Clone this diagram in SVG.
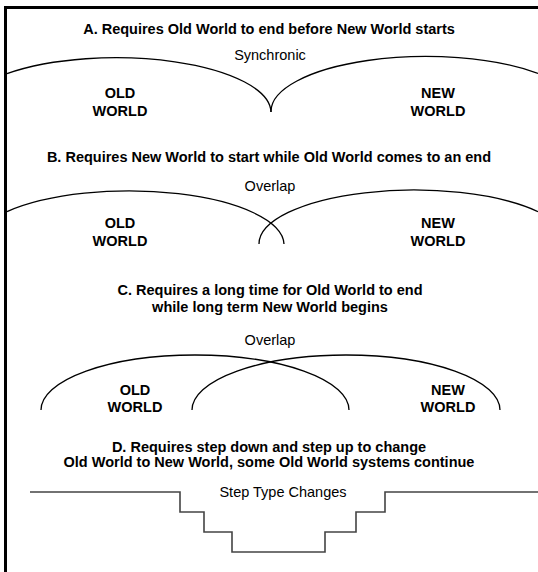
<svg xmlns="http://www.w3.org/2000/svg" width="538" height="572" viewBox="0 0 538 572">
<style>
text{font-family:"Liberation Sans",Arial,Helvetica,sans-serif;font-size:14.5px;fill:#000;text-anchor:middle}
.b{font-weight:bold}
.arc{fill:none;stroke:#000;stroke-width:1.3}
.step{fill:none;stroke:#444;stroke-width:1.6}
.frame{fill:none;stroke:#000;stroke-width:3}
</style>
<rect width="538" height="572" fill="#fff"/>
<path class="frame" d="M5.5 572 V7.5 H538"/>
<g id="sectionA">
<text class="b" x="269" y="34">A. Requires Old World to end before New World starts</text>
<text x="270" y="60">Synchronic</text>
<path class="arc" d="M7 73.6 A155 55 0 0 1 271 112"/>
<path class="arc" d="M271 112 A155 55 0 0 1 538 73.4"/>
<text class="b" x="120" y="98">OLD</text>
<text class="b" x="120" y="116">WORLD</text>
<text class="b" x="438" y="98">NEW</text>
<text class="b" x="438" y="116">WORLD</text>
</g>
<g id="sectionB">
<text class="b" x="269" y="162">B. Requires New World to start while Old World comes to an end</text>
<text x="270" y="191">Overlap</text>
<path class="arc" d="M7 211.6 A155 54 0 0 1 284 244"/>
<path class="arc" d="M259 244 A155 54 0 0 1 538 211.6"/>
<text class="b" x="120" y="228">OLD</text>
<text class="b" x="120" y="246">WORLD</text>
<text class="b" x="438" y="228">NEW</text>
<text class="b" x="438" y="246">WORLD</text>
</g>
<g id="sectionC">
<text class="b" x="270" y="295">C. Requires a long time for Old World to end</text>
<text class="b" x="270" y="312">while long term New World begins</text>
<text x="270" y="345">Overlap</text>
<path class="arc" d="M41 410 A154 55 0 0 1 349 410"/>
<path class="arc" d="M192 410 A154 55 0 0 1 500 410"/>
<text class="b" x="135" y="395">OLD</text>
<text class="b" x="135" y="412">WORLD</text>
<text class="b" x="448" y="395">NEW</text>
<text class="b" x="448" y="412">WORLD</text>
</g>
<g id="sectionD">
<text class="b" x="269" y="452">D. Requires step down and step up to change</text>
<text class="b" x="269" y="467">Old World to New World, some Old World systems continue</text>
<text x="283" y="497">Step Type Changes</text>
<path class="step" d="M30 492 H180 V512 H204 V532 H232 V552 H325 V532 H356 V512 H385 V492 H538"/>
</g>
</svg>
